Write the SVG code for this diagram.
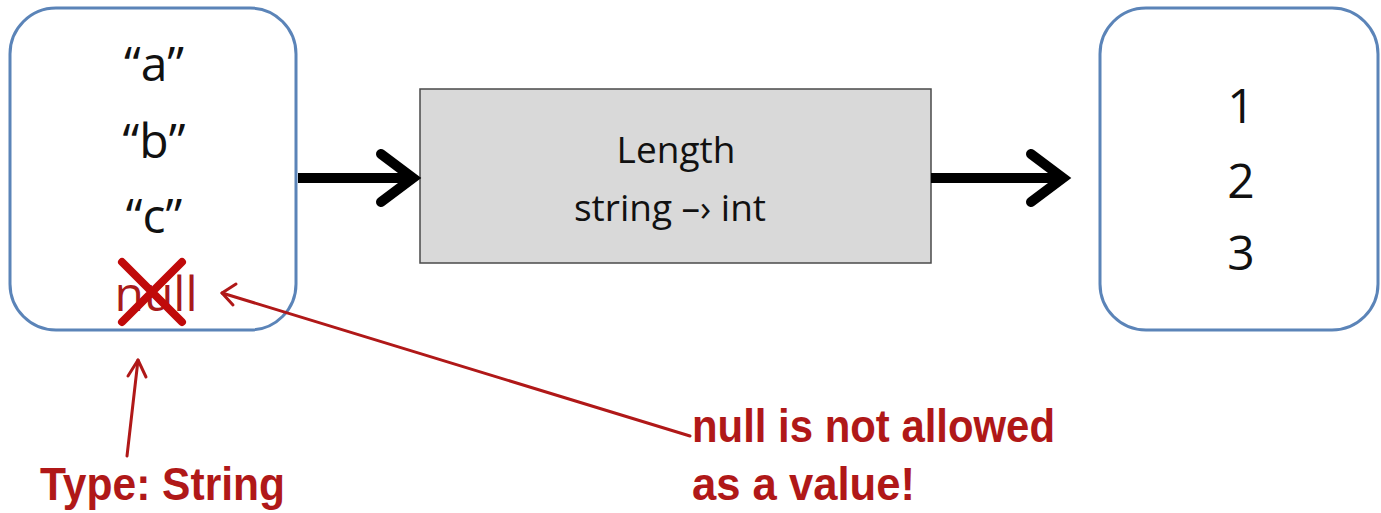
<svg xmlns="http://www.w3.org/2000/svg" width="1381" height="513" viewBox="0 0 1381 513">
  <style>
    .box { fill: #ffffff; stroke: #5b84b8; stroke-width: 3; }
    .proc { fill: #d9d9d9; stroke: #4a4a4a; stroke-width: 1.5; }
    .val { font-family: "Open Sans", Lato, sans-serif; font-size: 48px; fill: #111; text-anchor: middle; }
    .mid { font-family: "Open Sans", Lato, sans-serif; font-size: 37px; fill: #111; text-anchor: middle; }
    .flow { fill: none; stroke: #000; stroke-width: 10; stroke-linecap: butt; stroke-linejoin: round; }
    .head { fill: none; stroke: #000; stroke-width: 10; stroke-linecap: round; stroke-linejoin: miter; }
    .note { font-family: "Liberation Sans Narrow", "Liberation Sans", sans-serif; font-size: 46px; font-weight: bold; fill: #b01818; }
    .red { fill: none; stroke: #b01818; stroke-width: 3; stroke-linecap: round; stroke-linejoin: round; }
  </style>

  <!-- input collection -->
  <g id="input">
    <rect class="box" x="10" y="8" width="286" height="322" rx="46" ry="46"/>
    <text class="val" x="154" y="81">“a”</text>
    <text class="val" x="154" y="158">“b”</text>
    <text class="val" x="154" y="233">“c”</text>
    <text class="val" x="156" y="311" style="fill:#a81a1a">null</text>
    <path d="M122 262 L182 322 M182 262 L122 322" fill="none" stroke="#c00a0a" stroke-width="8" stroke-linecap="round"/>
  </g>

  <!-- transformation -->
  <g id="length">
    <rect class="proc" x="420" y="89" width="511" height="174"/>
    <text class="mid" x="676" y="163">Length</text>
    <text class="mid" x="670" y="221">string –› int</text>
  </g>

  <!-- output collection -->
  <g id="output">
    <rect class="box" x="1100" y="8" width="278" height="322" rx="46" ry="46"/>
    <text class="val" x="1241" y="123">1</text>
    <text class="val" x="1241" y="198">2</text>
    <text class="val" x="1241" y="270">3</text>
  </g>

  <!-- connectors -->
  <g id="connectors">
    <line class="flow" x1="298" y1="178" x2="412" y2="178"/>
    <polyline class="head" points="381,154 413,178 381,202"/>
    <line class="flow" x1="931" y1="178" x2="1060" y2="178"/>
    <polyline class="head" points="1031,154 1063,178 1031,202"/>
  </g>

  <!-- annotations -->
  <g id="note-type">
    <path class="red" d="M127 456 L138 360"/>
    <path class="red" d="M128 376 L138 360 L146 377"/>
    <text class="note" x="40" y="500" textLength="245" lengthAdjust="spacingAndGlyphs">Type: String</text>
  </g>
  <g id="note-null">
    <path class="red" d="M690 436 L222 293"/>
    <path class="red" d="M236 284 L222 293 L233 305"/>
    <text class="note" x="692" y="442" textLength="363" lengthAdjust="spacingAndGlyphs">null is not allowed</text>
    <text class="note" x="692" y="500" textLength="223" lengthAdjust="spacingAndGlyphs">as a value!</text>
  </g>
</svg>
